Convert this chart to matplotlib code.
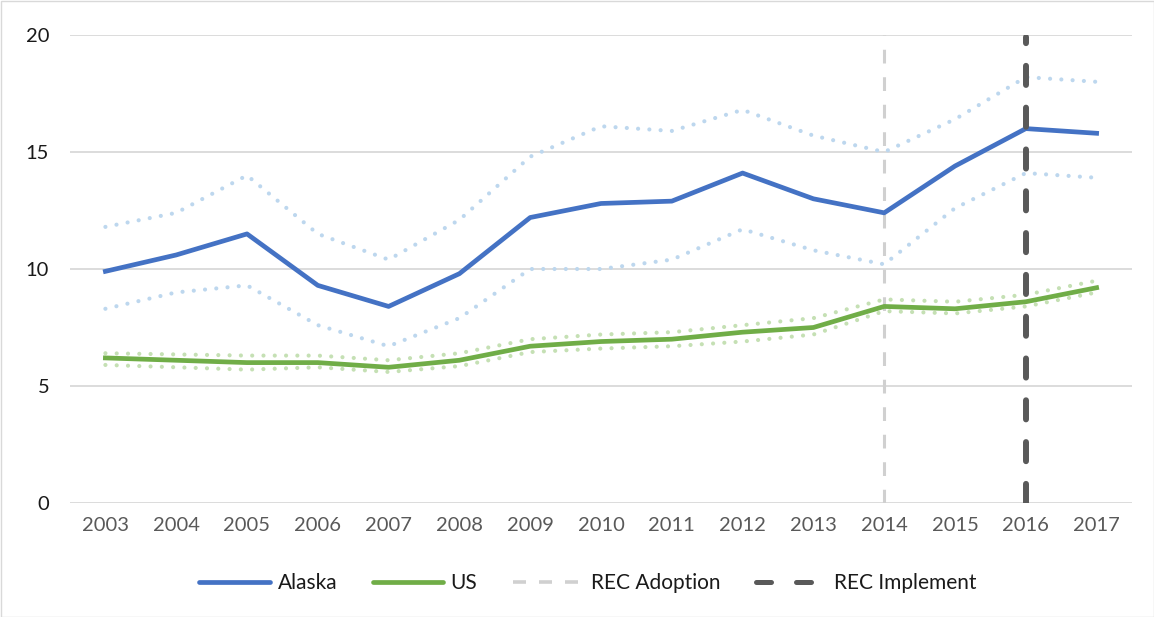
import matplotlib
matplotlib.use("Agg")
import matplotlib.pyplot as plt
from matplotlib.lines import Line2D
from matplotlib.patches import Rectangle

years = ["2003", "2004", "2005", "2006", "2007", "2008", "2009", "2010",
         "2011", "2012", "2013", "2014", "2015", "2016", "2017"]
alaska = [9.9, 10.6, 11.5, 9.3, 8.4, 9.8, 12.2, 12.8, 12.9, 14.1, 13.0, 12.4, 14.4, 16.0, 15.8]
alaska_hi = [11.8, 12.4, 14.0, 11.5, 10.4, 12.1, 14.8, 16.1, 15.9, 16.8, 15.7, 15.0, 16.4, 18.2, 18.0]
alaska_lo = [8.3, 9.0, 9.3, 7.6, 6.7, 7.9, 10.0, 10.0, 10.4, 11.7, 10.8, 10.2, 12.6, 14.1, 13.9]
us = [6.2, 6.1, 6.0, 6.0, 5.8, 6.1, 6.7, 6.9, 7.0, 7.3, 7.5, 8.4, 8.3, 8.6, 9.2]
us_hi = [6.4, 6.35, 6.3, 6.3, 6.1, 6.4, 7.0, 7.2, 7.3, 7.6, 7.9, 8.7, 8.6, 8.9, 9.5]
us_lo = [5.9, 5.8, 5.7, 5.8, 5.6, 5.85, 6.45, 6.6, 6.7, 6.9, 7.2, 8.2, 8.1, 8.4, 9.0]
rec_adoption_year = "2014"
rec_implement_year = "2016"
yticks = [0, 5, 10, 15, 20]

plt.rcParams['font.family'] = ['Lato', 'DejaVu Sans']

fig = plt.figure(figsize=(11.54, 6.17), dpi=100)
ax = fig.add_axes([70/1154, 114/617, (1132-70)/1154, (503-35)/617])

x = list(range(len(years)))
c_blue = "#4472C4"
c_green = "#70AD47"
c_lblue = "#BDD7EE"
c_lgreen = "#C5E0B4"

dot = (0, (0.01, 2.7))
for series, col in [(alaska_hi, c_lblue), (alaska_lo, c_lblue), (us_hi, c_lgreen), (us_lo, c_lgreen)]:
    ax.plot(x, series, color=col, lw=3.0, linestyle=dot, dash_capstyle='round', zorder=2)

ax.plot(x, alaska, color=c_blue, lw=3.4, zorder=3)
ax.plot(x, us, color=c_green, lw=3.4, zorder=3)

xa = years.index(rec_adoption_year)
xi = years.index(rec_implement_year)
ax.plot([xa, xa], [0, 20], color="#D0D0D0", lw=2.2, linestyle=(0, (4.5, 4.5)), zorder=1)
ax.plot([xi, xi], [0, 19.9], color="#595959", lw=4.3, linestyle=(0, (3.2, 3.8)),
        dash_capstyle='round', zorder=4)

ax.set_xlim(-0.5, len(years) - 0.5)
ax.set_ylim(0, 20)
ax.set_yticks(yticks)
ax.set_xticks(x)
ax.set_xticklabels(years)
ax.yaxis.grid(True, color="#D9D9D9", lw=1.3)
ax.set_axisbelow(True)
for s in ax.spines.values():
    s.set_visible(False)
ax.tick_params(axis='both', length=0, labelsize=14.5)
ax.tick_params(axis='x', pad=10, colors="#595959")
ax.tick_params(axis='y', pad=15, colors="#1a1a1a")

handles = [
    Line2D([], [], color=c_blue, lw=3.4, solid_capstyle='round'),
    Line2D([], [], color=c_green, lw=3.4, solid_capstyle='round'),
    Line2D([], [], color="#D0D0D0", lw=2.6, linestyle=(0, (3.6, 3.6))),
    Line2D([], [], color="#595959", lw=3.6, linestyle=(0, (3.0, 5.0)), dash_capstyle='round'),
]
labels = ["Alaska", "US", "REC Adoption", "REC Implement"]
fig.legend(handles, labels, loc='center', bbox_to_anchor=(588/1154, 1 - 583/617), ncol=4,
           frameon=False, fontsize=15, handlelength=3.4, handletextpad=0.35, columnspacing=1.7,
           labelcolor="#1a1a1a")

fig.patches.append(Rectangle((0.5/1154, 0.5/617), 1 - 1/1154, 1 - 1/617, transform=fig.transFigure,
                             fill=False, edgecolor="#D9D9D9", lw=1))

fig.savefig("out.png", dpi=100)
